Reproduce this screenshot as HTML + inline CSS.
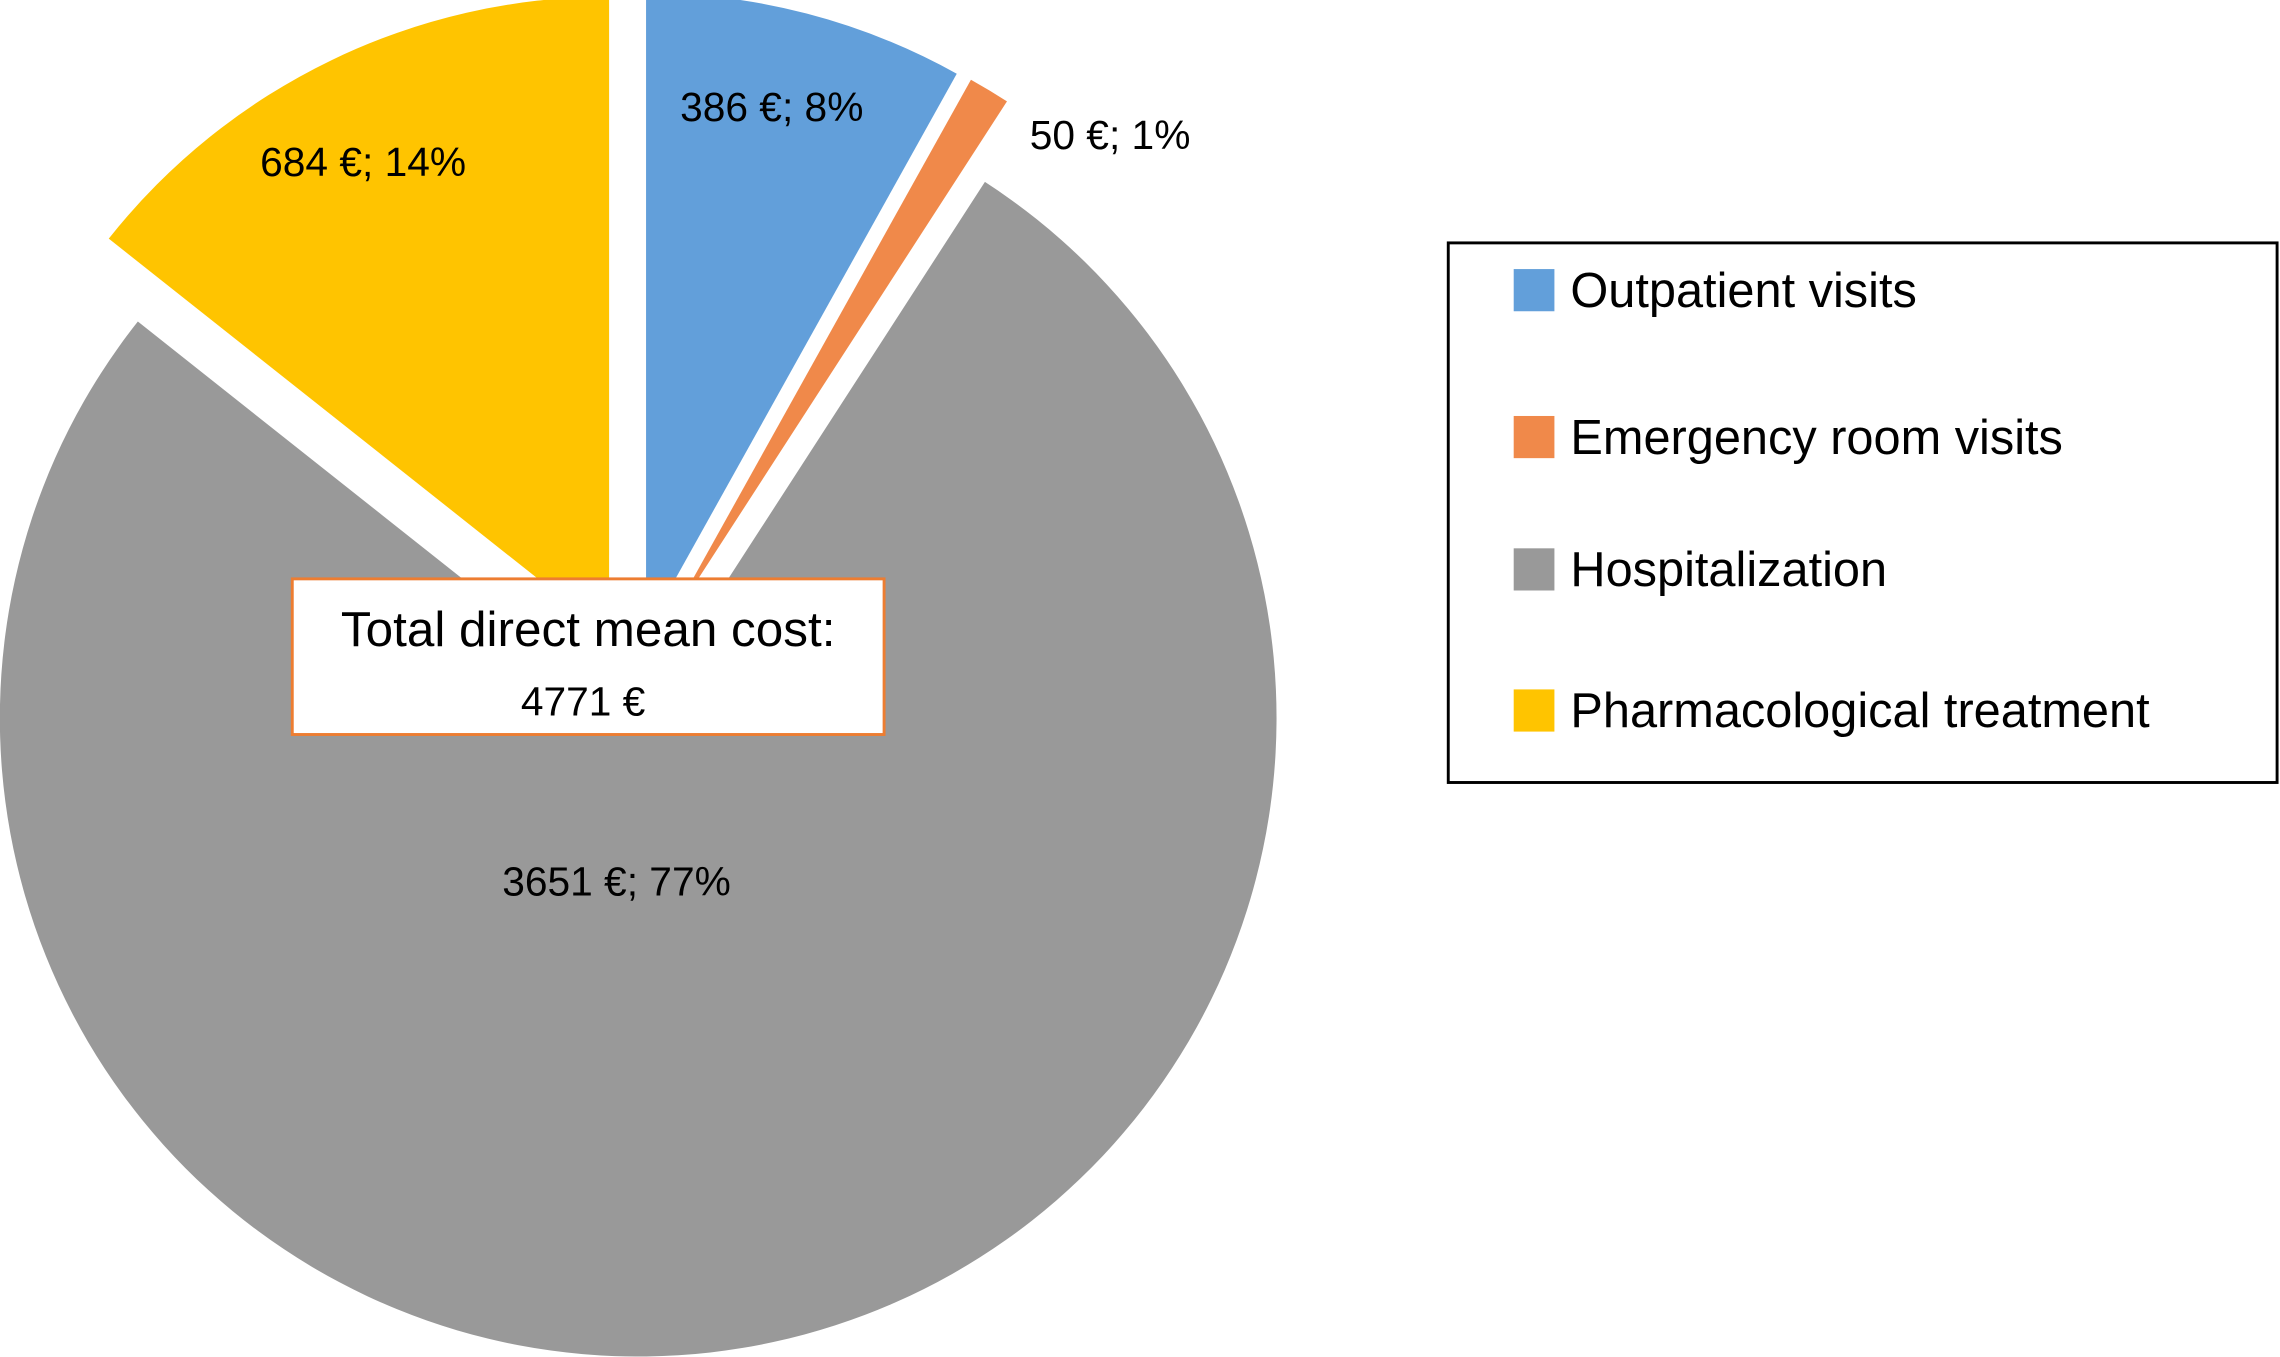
<!DOCTYPE html>
<html><head><meta charset="utf-8"><style>
html,body{margin:0;padding:0;background:#fff;}
svg{display:block;font-family:"Liberation Sans",Arial,sans-serif;}
</style></head><body>
<svg id="chart" width="2280" height="1357" viewBox="0 0 1568 933" preserveAspectRatio="none">
<g id="slices"></g>
<g id="labels"></g>
<g>
<rect x="201" y="398" width="407" height="107" fill="#fff" stroke="#ED7D31" stroke-width="2"/>
<text x="404.5" y="444" font-size="34" text-anchor="middle" fill="#000">Total direct mean cost:</text>
<text x="401" y="492" font-size="28" text-anchor="middle" fill="#000">4771 €</text>
</g>
<g>
<rect x="996" y="167" width="570" height="371" fill="#fff" stroke="#000" stroke-width="2"/>
<g id="legend-entries"></g>
</g>
</svg>
<script>
const categories = ["Outpatient visits","Emergency room visits","Hospitalization","Pharmacological treatment"];
const values = [386, 50, 3651, 684];
const percents = [8, 1, 77, 14];
const colors = ["#629FDA","#F0894A","#999999","#FFC400"];
const labelRadius = [0.93, 1.14, 0.31, 0.92];
const labelAngleShift = [-1, 10, 14, -1.5];
const explodeDist = [37, 37, 24, 37];
const legendRows = [200, 301, 392, 489];

const NS = "http://www.w3.org/2000/svg";
const cx = 435, cy = 470, r = 439;
const total = values.reduce((a,b)=>a+b,0);
function pt(x0,y0,ang,rad){return [x0+rad*Math.sin(ang), y0-rad*Math.cos(ang)];}
const sg = document.getElementById('slices');
const lg = document.getElementById('labels');
const leg = document.getElementById('legend-entries');
let acc = 0;
values.forEach((v,i)=>{
  const a0 = acc/total*2*Math.PI; acc += v;
  const a1 = acc/total*2*Math.PI;
  const mid = (a0+a1)/2;
  const [ox,oy] = pt(cx,cy,mid,explodeDist[i]);
  const [x0,y0] = pt(ox,oy,a0,r), [x1,y1] = pt(ox,oy,a1,r);
  const large = (a1-a0) > Math.PI ? 1 : 0;
  const p = document.createElementNS(NS,'path');
  p.setAttribute('d',`M${ox},${oy} L${x0},${y0} A${r},${r} 0 ${large} 1 ${x1},${y1} Z`);
  p.setAttribute('fill',colors[i]);
  
  
  sg.appendChild(p);
  const [lx,ly] = pt(cx,cy,mid + labelAngleShift[i]*Math.PI/180,r*labelRadius[i]);
  const t = document.createElementNS(NS,'text');
  t.setAttribute('x',lx); t.setAttribute('y',ly+10);
  t.setAttribute('font-size','28'); t.setAttribute('text-anchor','middle');
  t.textContent = values[i] + ' €; ' + percents[i] + '%';
  
  
  lg.appendChild(t);
  const sq = document.createElementNS(NS,'rect');
  sq.setAttribute('x',1041); sq.setAttribute('y',legendRows[i]-15);
  sq.setAttribute('width',28); sq.setAttribute('height',29);
  sq.setAttribute('fill',colors[i]);
  
  
  leg.appendChild(sq);
  const lt = document.createElementNS(NS,'text');
  lt.setAttribute('x',1080); lt.setAttribute('y',legendRows[i]+11);
  lt.setAttribute('font-size','33.5');
  lt.textContent = categories[i];
  
  
  leg.appendChild(lt);
});
</script>
</body></html>
